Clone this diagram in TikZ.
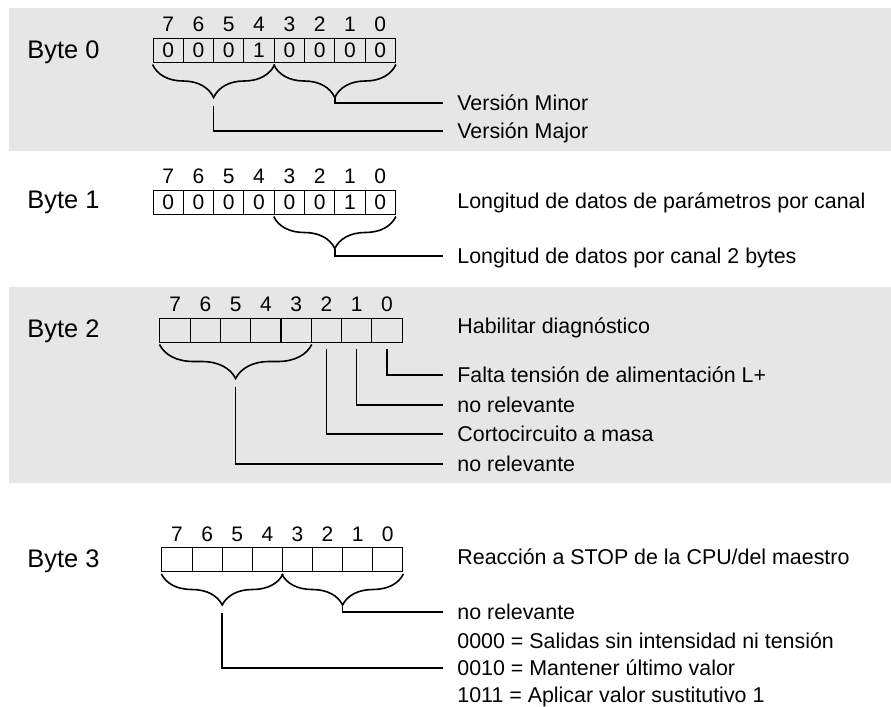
\documentclass[tikz,border=0pt]{standalone}
\usepackage{fontspec}
\setmainfont{Liberation Sans}
\usepackage{tikz}
\usetikzlibrary{calc,positioning,decorations.pathreplacing}
\definecolor{bandgray}{RGB}{230,230,230}
\tikzstyle{celda}=[draw, line width=0.5pt, minimum width=15.15pt, minimum height=12pt, inner sep=0pt, font=\fontsize{10.5}{12}\selectfont]
\tikzstyle{linea}=[line width=0.8pt]

\begin{document}
\begin{tikzpicture}[x=0.5pt,y=-0.5pt,
	bitno/.style={anchor=base,inner sep=0pt,font=\fontsize{10.5}{12}\selectfont},
	etiq/.style={anchor=west,inner xsep=7pt,inner ysep=0pt,text height=7.6pt,text depth=0pt,font=\fontsize{10.7}{13}\selectfont},
	bytelbl/.style={anchor=west,inner sep=0pt,text height=8.9pt,text depth=0pt,font=\fontsize{12.7}{15}\selectfont},
	llave/.style={decorate,decoration={brace,mirror,amplitude=#1},line width=0.8pt}]
	\useasboundingbox (0,0) rectangle (891,707);
	\fill[bandgray] (9,8) rectangle (891,151);
	\fill[bandgray] (9,287) rectangle (891,483);

	% Byte 0
	\node[bytelbl] (byte0) at (27,50) {Byte 0};
	\foreach \i/\v in {7/0,6/0,5/0,4/1,3/0,2/0,1/0,0/0}{
		\node[celda] (b0c\i) at ({153+30.3*(7-\i)+15.15},50) {\v};
		\node[bitno] (b0n\i) at ([yshift=3pt]b0c\i.north) {\i};
	}
	\draw[llave=16.5pt] ([yshift=-1pt]b0c7.south west) -- ([yshift=-1pt]b0c4.south east);
	\draw[llave=16.5pt] ([yshift=-1pt]b0c3.south west) -- ([yshift=-1pt]b0c0.south east);
	\coordinate (b0pa) at ($(b0c7.south west)!0.5!(b0c4.south east)+(0,-17.5pt)$);
	\coordinate (b0pb) at ($(b0c3.south west)!0.5!(b0c0.south east)+(0,-17.5pt)$);
	\node[etiq] (minor) at (443,103) {Versión Minor};
	\node[etiq] (major) at (443,131) {Versión Major};
	\draw[linea] (b0pb) |- (minor.west);
	\draw[linea] ([yshift=-4pt]b0pa) |- (major.west);

	% Byte 1
	\node[bytelbl] (byte1) at (27,200) {Byte 1};
	\foreach \i/\v in {7/0,6/0,5/0,4/0,3/0,2/0,1/1,0/0}{
		\node[celda] (b1c\i) at ({153+30.3*(7-\i)+15.15},202) {\v};
		\node[bitno] (b1n\i) at ([yshift=3pt]b1c\i.north) {\i};
	}
	\draw[llave=16pt] ([yshift=-1pt]b1c3.south west) -- ([yshift=-1pt]b1c0.south east);
	\coordinate (b1pb) at ($(b1c3.south west)!0.5!(b1c0.south east)+(0,-17pt)$);
	\node[etiq] (longpar) at (443,201) {Longitud de datos de parámetros por canal};
	\node[etiq] (longdat) at (443,256) {Longitud de datos por canal 2 bytes};
	\draw[linea] (b1pb) |- (longdat.west);

	% Byte 2
	\node[bytelbl] (byte2) at (27,329) {Byte 2};
	\foreach \i in {7,...,0}{
		\node[celda] (b2c\i) at ({160+30.25*(7-\i)+15.125},330) {};
		\node[bitno] (b2n\i) at ([yshift=3pt]b2c\i.north) {\i};
	}
	\draw[llave=17pt] ([yshift=-1pt]b2c7.south west) -- ([yshift=-1pt]b2c3.south east);
	\coordinate (b2pa) at ($(b2c7.south west)!0.5!(b2c3.south east)+(0,-18pt)$);
	\node[etiq] (habdiag) at (443,326) {Habilitar diagnóstico};
	\node[etiq] (falta) at (443,375) {Falta tensión de alimentación L+};
	\node[etiq] (norel1) at (443,405) {no relevante};
	\node[etiq] (corto) at (443,434) {Cortocircuito a masa};
	\node[etiq] (norel2) at (443,464) {no relevante};
	\draw[linea] ([yshift=-3pt]b2c0.south) |- (falta.west);
	\draw[linea] ([yshift=-3pt]b2c1.south) |- (norel1.west);
	\draw[linea] ([yshift=-3pt]b2c2.south) |- (corto.west);
	\draw[linea] ([yshift=-4pt]b2pa) |- (norel2.west);

	% Byte 3
	\node[bytelbl] (byte3) at (27,559) {Byte 3};
	\foreach \i in {7,...,0}{
		\node[celda] (b3c\i) at ({162+30.1*(7-\i)+15.05},559.5) {};
		\node[bitno] (b3n\i) at ([yshift=3pt]b3c\i.north) {\i};
	}
	\draw[llave=15.5pt] ([yshift=-1pt]b3c7.south west) -- ([yshift=-1pt]b3c4.south east);
	\draw[llave=15.5pt] ([yshift=-1pt]b3c3.south west) -- ([yshift=-1pt]b3c0.south east);
	\coordinate (b3pa) at ($(b3c7.south west)!0.5!(b3c4.south east)+(0,-16.5pt)$);
	\coordinate (b3pb) at ($(b3c3.south west)!0.5!(b3c0.south east)+(0,-16.5pt)$);
	\node[etiq] (reac) at (443,557) {Reacción a STOP de la CPU/del maestro};
	\node[etiq] (norel3) at (443,612) {no relevante};
	\node[etiq] (val0) at (443,641) {0000 = Salidas sin intensidad ni tensión};
	\node[etiq] (val1) at (443,668) {0010 = Mantener último valor};
	\node[etiq] (val2) at (443,695) {1011 = Aplicar valor sustitutivo 1};
	\draw[linea] (b3pb) |- (norel3.west);
	\draw[linea] ([yshift=-4pt]b3pa) |- (val1.west);
\end{tikzpicture}
\end{document}
